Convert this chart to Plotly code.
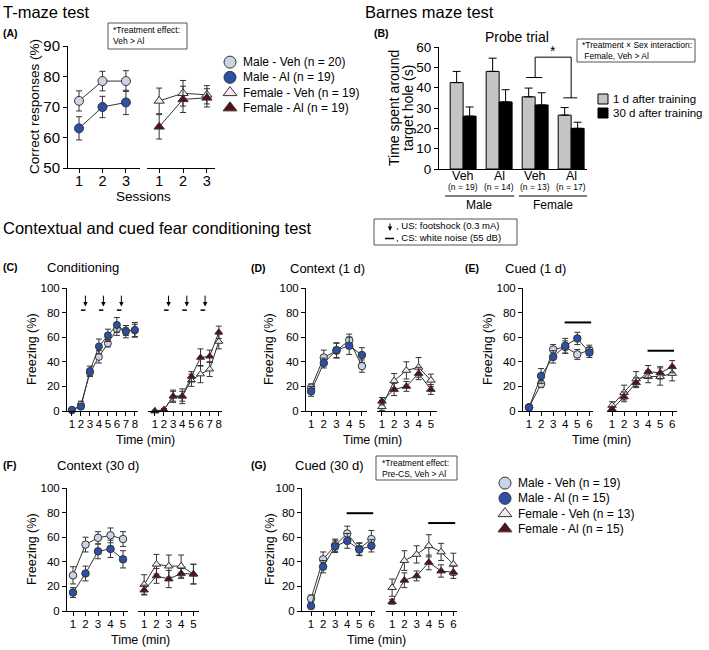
import plotly.graph_objects as go

W, H = 709, 650
FONT = "Liberation Sans, Arial, Helvetica, sans-serif"

# ---------------- data ----------------
group_names = ["Male - Veh", "Male - Al", "Female - Veh", "Female - Al"]
tmaze_n = [20, 19, 19, 19]
fear_n = [19, 15, 13, 15]

# (A) T-maze
tmaze_sessions = [1, 2, 3]
tmaze_male_veh = [72.0, 78.5, 78.5]
tmaze_male_veh_err = [3.3, 3.2, 3.4]
tmaze_male_al = [63.0, 70.0, 71.5]
tmaze_male_al_err = [3.8, 3.5, 4.0]
tmaze_female_veh = [72.0, 74.5, 74.0]
tmaze_female_veh_err = [4.2, 4.2, 3.0]
tmaze_female_al = [63.5, 72.5, 73.0]
tmaze_female_al_err = [4.0, 4.3, 3.0]

# (B) Barnes maze probe trial
barnes_groups = ["Veh", "Al", "Veh", "Al"]
barnes_n = [19, 14, 13, 17]
barnes_sex = ["Male", "Female"]
barnes_1d = [42.5, 48.0, 35.5, 26.5]
barnes_1d_err = [5.5, 6.5, 4.3, 3.7]
barnes_30d = [26.0, 33.0, 31.5, 20.0]
barnes_30d_err = [4.5, 6.0, 6.0, 3.0]
barnes_series = ["1 d after training", "30 d after training"]

# (C) Conditioning
cond_time = [1, 2, 3, 4, 5, 6, 7, 8]
cond_male_veh = [0.5, 5.0, 31.0, 44.0, 55.0, 66.5, 65.5, 65.5]
cond_male_veh_err = [1, 3, 3, 5, 3, 5, 4, 5]
cond_male_al = [1.0, 3.5, 32.5, 52.5, 61.5, 70.0, 64.5, 66.0]
cond_male_al_err = [1, 2, 4, 6, 5, 6, 5, 6]
cond_female_veh = [0.0, 1.0, 12.0, 12.0, 25.0, 30.0, 34.0, 56.5]
cond_female_veh_err = [0.5, 1, 4, 4, 5, 7, 6, 6]
cond_female_al = [0.0, 1.0, 12.0, 12.0, 28.0, 43.5, 44.5, 64.0]
cond_female_al_err = [0.5, 1, 5, 6, 4, 7, 5, 5]
us_times = [2.5, 4.5, 6.5]
cs_cond_start = [2.0, 4.0, 6.0]
cs_cond_end = [2.5, 4.5, 6.5]

# (D) Context 1 d
ctx1_time = [1, 2, 3, 4, 5]
ctx1_male_veh = [19.0, 43.5, 49.0, 57.5, 36.5]
ctx1_male_veh_err = [3, 6, 6, 5, 5]
ctx1_male_al = [16.0, 39.0, 49.5, 53.0, 45.5]
ctx1_male_al_err = [4, 4, 6, 7, 6]
ctx1_female_veh = [3.5, 24.5, 33.0, 35.5, 25.0]
ctx1_female_veh_err = [3, 6, 7, 8, 5]
ctx1_female_al = [8.0, 17.5, 20.0, 30.5, 17.5]
ctx1_female_al_err = [3, 5, 4, 5, 4]

# (E) Cued 1 d
cued1_time = [1, 2, 3, 4, 5, 6]
cued1_male_veh = [3.0, 22.0, 50.0, 52.0, 46.0, 49.5]
cued1_male_veh_err = [1, 3, 4, 5, 4, 4]
cued1_male_al = [3.0, 28.5, 44.0, 53.0, 59.0, 47.5]
cued1_male_al_err = [1, 6, 5, 6, 5, 4]
cued1_female_veh = [4.5, 15.0, 26.0, 28.0, 28.0, 30.5]
cued1_female_veh_err = [3, 6, 6, 5, 7, 6]
cued1_female_al = [1.5, 11.5, 23.0, 32.0, 31.0, 36.0]
cued1_female_al_err = [2, 4, 4, 5, 5, 5]

# (F) Context 30 d
ctx30_time = [1, 2, 3, 4, 5]
ctx30_male_veh = [29.0, 54.0, 59.5, 61.5, 58.5]
ctx30_male_veh_err = [7, 6, 5, 6, 6]
ctx30_male_al = [15.0, 30.5, 48.5, 50.5, 42.0]
ctx30_male_al_err = [4, 6, 6, 7, 7]
ctx30_female_veh = [21.5, 38.0, 36.5, 36.5, 30.0]
ctx30_female_veh_err = [8, 8, 9, 9, 8]
ctx30_female_al = [17.0, 28.5, 26.0, 30.5, 30.0]
ctx30_female_al_err = [4, 6, 7, 4, 8]

# (G) Cued 30 d
cued30_time = [1, 2, 3, 4, 5, 6]
cued30_male_veh = [10.0, 42.0, 53.5, 63.0, 50.5, 58.5]
cued30_male_veh_err = [3, 6, 5, 6, 5, 7]
cued30_male_al = [4.0, 36.0, 52.5, 57.0, 50.0, 53.0]
cued30_male_al_err = [1, 5, 5, 6, 5, 5]
cued30_female_veh = [19.0, 41.0, 46.0, 53.0, 48.0, 38.0]
cued30_female_veh_err = [7, 8, 7, 9, 7, 9]
cued30_female_al = [7.5, 25.0, 28.5, 39.5, 32.5, 31.5]
cued30_female_al_err = [2, 6, 4, 6, 5, 5]
cs_cued_start = 3.95
cs_cued_end = 6.15

# ---------------- styles ----------------
STY = {
    "Male - Veh": dict(symbol="circle", color="#c9d4e7"),
    "Male - Al": dict(symbol="circle", color="#2c50a6"),
    "Female - Veh": dict(symbol="triangle-up", color="#f6eaf1"),
    "Female - Al": dict(symbol="triangle-up", color="#5a0f18"),
}
EDGE = "#333333"

fig = go.Figure()


def add_series(name, xs, ys, errs, xref, yref, size):
    s = STY[name]
    fig.add_trace(go.Scatter(
        x=xs, y=ys, mode="lines+markers", xaxis=xref, yaxis=yref,
        line=dict(color=EDGE, width=1),
        marker=dict(symbol=s["symbol"], size=size, color=s["color"],
                    line=dict(color=EDGE, width=1)),
        error_y=dict(type="data", array=errs, color=EDGE, thickness=1, width=3),
        cliponaxis=False, showlegend=False, hoverinfo="skip"))


def xax(px0, px1, rng, anchor, tickvals, fs, ticks="outside", showlabels=True, standoff=-2):
    return dict(domain=[px0 / W, px1 / W], range=rng, anchor=anchor, showline=True,
                linecolor="black", linewidth=1, ticks=ticks, ticklen=4, tickwidth=1,
                tickcolor="black", tickvals=tickvals, automargin=False,
                showticklabels=showlabels, ticklabelstandoff=standoff,
                tickfont=dict(size=fs, family=FONT, color="black"),
                showgrid=False, zeroline=False, tickangle=0, fixedrange=True)


def yax(pt, pb, rng, anchor, tickvals, fs):
    return dict(domain=[1 - pb / H, 1 - pt / H], range=rng, anchor=anchor, showline=True,
                linecolor="black", linewidth=1, ticks="outside", ticklen=4, tickwidth=1,
                tickcolor="black", tickvals=tickvals, automargin=False,
                tickfont=dict(size=fs, family=FONT, color="black"),
                showgrid=False, zeroline=False, fixedrange=True)


def hidden(dom_x, dom_y, rx, ry, anchor):
    return (dict(domain=[dom_x[0] / W, dom_x[1] / W], range=rx, visible=False, anchor=anchor,
                 fixedrange=True, automargin=False),
            dict(domain=[1 - dom_y[1] / H, 1 - dom_y[0] / H], range=ry, visible=False,
                 fixedrange=True, automargin=False))


layout = dict(width=W, height=H, margin=dict(l=0, r=0, t=0, b=0, pad=0, autoexpand=False),
              paper_bgcolor="white", plot_bgcolor="rgba(0,0,0,0)", showlegend=False,
              font=dict(family=FONT, color="black"), barmode="group", bargap=0.28, bargroupgap=0)

# ---- axes ----
layout["xaxis"] = xax(68, 140, [0.53, 3.6], "y", tmaze_sessions, 14.5, standoff=-4)
layout["xaxis2"] = xax(147, 215, [0.49, 3.34], "y", tmaze_sessions, 14.5, standoff=-4)
layout["yaxis"] = yax(46, 168, [50, 90], "x", [50, 60, 70, 80, 90], 15)

barnes_x = list(range(len(barnes_groups)))
layout["xaxis3"] = xax(439, 587, [-0.67, 3.44], "y2", barnes_x, 12.5, ticks="", showlabels=False)
layout["yaxis2"] = yax(47, 169, [0, 60], "x3", [0, 10, 20, 30, 40, 50, 60], 13.5)

fz = [0, 20, 40, 60, 80, 100]
layout["xaxis4"] = xax(67, 138, [0.45, 8.35], "y3", cond_time, 11.5)
layout["xaxis5"] = xax(148, 222, [0.25, 8.35], "y3", cond_time, 11.5)
layout["yaxis3"] = yax(288, 411, [0, 100], "x4", fz, 11.5)

layout["xaxis6"] = xax(306, 367, [0.6, 5.4], "y4", ctx1_time, 11.5)
layout["xaxis7"] = xax(377, 437, [0.6, 5.5], "y4", ctx1_time, 11.5)
layout["yaxis4"] = yax(288, 411, [0, 100], "x6", fz, 11.5)

layout["xaxis8"] = xax(523, 593, [0.5, 6.3], "y5", cued1_time, 11.5)
layout["xaxis9"] = xax(607, 677, [0.58, 6.4], "y5", cued1_time, 11.5)
layout["yaxis5"] = yax(288, 411, [0, 100], "x8", fz, 11.5)

layout["xaxis10"] = xax(67, 128, [0.52, 5.4], "y6", ctx30_time, 11.5)
layout["xaxis11"] = xax(138, 199, [0.5, 5.45], "y6", ctx30_time, 11.5)
layout["yaxis6"] = yax(488, 611, [0, 100], "x10", fz, 11.5)

layout["xaxis12"] = xax(302, 375, [0.25, 6.3], "y7", cued30_time, 11.5)
layout["xaxis13"] = xax(386, 457, [0.5, 6.3], "y7", cued30_time, 11.5)
layout["yaxis7"] = yax(488, 611, [0, 100], "x12", fz, 11.5)

# legend axes (rows = index)
layout["xaxis14"], layout["yaxis8"] = hidden((225, 235), (54.5, 115.5), [-1, 1], [3.5, -0.5], "y8")
layout["xaxis15"], layout["yaxis9"] = hidden((598, 608), (92, 120), [-1, 1], [1.5, -0.5], "y9")
layout["xaxis16"], layout["yaxis10"] = hidden((500, 510), (475.5, 536.5), [-1, 1], [3.5, -0.5], "y10")

# ---- (A) ----
add_series("Male - Veh", tmaze_sessions, tmaze_male_veh, tmaze_male_veh_err, "x", "y", 9)
add_series("Male - Al", tmaze_sessions, tmaze_male_al, tmaze_male_al_err, "x", "y", 9)
add_series("Female - Veh", tmaze_sessions, tmaze_female_veh, tmaze_female_veh_err, "x2", "y", 9)
add_series("Female - Al", tmaze_sessions, tmaze_female_al, tmaze_female_al_err, "x2", "y", 9)

# ---- (B) ----
fig.add_trace(go.Bar(x=barnes_x, y=barnes_1d, xaxis="x3", yaxis="y2", offsetgroup="a",
                     marker=dict(color="#c4c4c4", line=dict(color="black", width=1)),
                     error_y=dict(type="data", symmetric=False, array=barnes_1d_err,
                                  arrayminus=[0] * 4, color="black", thickness=1, width=4),
                     hoverinfo="skip"))
fig.add_trace(go.Bar(x=barnes_x, y=barnes_30d, xaxis="x3", yaxis="y2", offsetgroup="b",
                     marker=dict(color="black", line=dict(color="black", width=1)),
                     error_y=dict(type="data", symmetric=False, array=barnes_30d_err,
                                  arrayminus=[0] * 4, color="black", thickness=1, width=4),
                     hoverinfo="skip"))

# ---- (C)-(G) ----
panels = [
    ("x4", "x5", "y3", cond_time,
     (cond_male_veh, cond_male_veh_err), (cond_male_al, cond_male_al_err),
     (cond_female_veh, cond_female_veh_err), (cond_female_al, cond_female_al_err)),
    ("x6", "x7", "y4", ctx1_time,
     (ctx1_male_veh, ctx1_male_veh_err), (ctx1_male_al, ctx1_male_al_err),
     (ctx1_female_veh, ctx1_female_veh_err), (ctx1_female_al, ctx1_female_al_err)),
    ("x8", "x9", "y5", cued1_time,
     (cued1_male_veh, cued1_male_veh_err), (cued1_male_al, cued1_male_al_err),
     (cued1_female_veh, cued1_female_veh_err), (cued1_female_al, cued1_female_al_err)),
    ("x10", "x11", "y6", ctx30_time,
     (ctx30_male_veh, ctx30_male_veh_err), (ctx30_male_al, ctx30_male_al_err),
     (ctx30_female_veh, ctx30_female_veh_err), (ctx30_female_al, ctx30_female_al_err)),
    ("x12", "x13", "y7", cued30_time,
     (cued30_male_veh, cued30_male_veh_err), (cued30_male_al, cued30_male_al_err),
     (cued30_female_veh, cued30_female_veh_err), (cued30_female_al, cued30_female_al_err)),
]
for xl, xr, ya, t, mv, ma, fv, fa in panels:
    sz = 7 if xl == "x4" else 7.5
    add_series("Male - Veh", t, mv[0], mv[1], xl, ya, sz)
    add_series("Male - Al", t, ma[0], ma[1], xl, ya, sz)
    add_series("Female - Veh", t, fv[0], fv[1], xr, ya, sz)
    add_series("Female - Al", t, fa[0], fa[1], xr, ya, sz)

# ---- legends ----
for i, name in enumerate(group_names):
    s = STY[name]
    for xr_, yr_ in (("x14", "y8"), ("x16", "y10")):
        fig.add_trace(go.Scatter(x=[0], y=[i], mode="markers", xaxis=xr_, yaxis=yr_,
                                 marker=dict(symbol=s["symbol"], size=12, color=s["color"],
                                             line=dict(color=EDGE, width=1)),
                                 cliponaxis=False, hoverinfo="skip", showlegend=False))
fig.add_trace(go.Scatter(x=[0, 0], y=[0, 1], mode="markers", xaxis="x15", yaxis="y9",
                         marker=dict(symbol="square", size=10, color=["#c4c4c4", "black"],
                                     line=dict(color="black", width=1)),
                         cliponaxis=False, hoverinfo="skip", showlegend=False))

ann = []
shapes = []


def txt(text, x, y, size, xanchor="left", yanchor="middle", angle=0):
    ann.append(dict(text=text, x=x / W, y=1 - y / H, xref="paper", yref="paper",
                    showarrow=False, xanchor=xanchor, yanchor=yanchor, textangle=angle,
                    align="left" if xanchor == "left" else "center",
                    font=dict(size=size, family=FONT, color="black")))


def box(x0, y0, x1, y1):
    shapes.append(dict(type="rect", xref="paper", yref="paper", x0=x0 / W, x1=x1 / W,
                       y0=1 - y1 / H, y1=1 - y0 / H, line=dict(color="#555555", width=1)))


def pline(x0, y0, x1, y1, w=1):
    shapes.append(dict(type="line", xref="paper", yref="paper", x0=x0 / W, x1=x1 / W,
                       y0=1 - y0 / H, y1=1 - y1 / H, line=dict(color="black", width=w)))


for i, (name, n) in enumerate(zip(group_names, tmaze_n)):
    ann.append(dict(text=f"{name} (n = {n})", x=241 / W, xref="paper", y=i, yref="y8",
                    showarrow=False, xanchor="left", font=dict(size=12, family=FONT, color="black")))
for i, (name, n) in enumerate(zip(group_names, fear_n)):
    ann.append(dict(text=f"{name} (n = {n})", x=516 / W, xref="paper", y=i, yref="y10",
                    showarrow=False, xanchor="left", font=dict(size=12, family=FONT, color="black")))
for i, name in enumerate(barnes_series):
    ann.append(dict(text=name, x=611 / W, xref="paper", y=i, yref="y9",
                    showarrow=False, xanchor="left", font=dict(size=11.5, family=FONT, color="black")))

# titles
txt("T-maze test", 1, 12, 16.5)
txt("<b>(A)</b>", 1, 33, 10.5)
txt("Correct responses (%)", 34, 107, 13.5, xanchor="center", angle=-90)
txt("Sessions", 143, 196, 13.5, xanchor="center")
box(108, 23, 187, 49)
txt("*Treatment effect:<br>Veh > Al", 111, 36, 8.5)

txt("Barnes maze test", 363, 12, 16.5)
txt("<b>(B)</b>", 372, 33, 10.5)
txt("Probe trial", 517, 37, 14, xanchor="center")
txt("Time spent around", 394, 108, 14, xanchor="center", angle=-90)
txt("target hole (s)", 408, 108, 14, xanchor="center", angle=-90)
box(577, 39, 695, 62)
txt("*Treatment × Sex interaction:<br> Female, Veh > Al", 580, 50.5, 8.5)
for xv, g, n in zip(barnes_x, barnes_groups, barnes_n):
    ann.append(dict(text=g, x=xv, xref="x3", y=1 - 176 / H, yref="paper",
                    showarrow=False, xanchor="center", yanchor="middle",
                    font=dict(size=12.5, family=FONT, color="black")))
    ann.append(dict(text=f"(n = {n})", x=xv, xref="x3", y=1 - 187 / H, yref="paper",
                    showarrow=False, xanchor="center", yanchor="middle",
                    font=dict(size=8.5, family=FONT, color="black")))
for label, cx in zip(barnes_sex, (0.45, 2.5)):
    ann.append(dict(text=label, x=cx, xref="x3", y=1 - 205 / H, yref="paper",
                    showarrow=False, xanchor="center", yanchor="middle",
                    font=dict(size=12, family=FONT, color="black")))
for a, b in ((-0.5, 1.42), (1.55, 3.47)):
    shapes.append(dict(type="line", xref="x3", yref="paper", x0=a, x1=b,
                       y0=1 - 196 / H, y1=1 - 196 / H, line=dict(color="black", width=1)))
# significance bracket
for seg in ((2.0, 55, 3.0, 55), (2.0, 55, 2.0, 45), (3.0, 55, 3.0, 35),
            (1.75, 45, 2.2, 45), (2.78, 35, 3.17, 35)):
    shapes.append(dict(type="line", xref="x3", yref="y2", x0=seg[0], y0=seg[1], x1=seg[2], y1=seg[3],
                       line=dict(color="black", width=1)))
ann.append(dict(text="*", x=2.5, y=58, xref="x3", yref="y2", showarrow=False,
                font=dict(size=14, family=FONT, color="black"), yanchor="middle"))

txt("Contextual and cued fear conditioning test", 1, 228, 16.5)
box(374, 219, 517, 245)
# key: arrow (US) and dash (CS)
ann.append(dict(text="", x=390 / W, y=1 - 231 / H, xref="paper", yref="paper",
                showarrow=True, ax=0, ay=-9, arrowhead=2, arrowsize=0.9, arrowwidth=1,
                arrowcolor="black"))
pline(385, 238.5, 394, 238.5, 1.5)
txt(", US: footshock (0.3 mA)<br>, CS: white noise (55 dB)", 394, 232, 9.5)

txt("<b>(C)</b>", 1, 267, 10.5)
txt("Conditioning", 45, 267, 13)
txt("<b>(D)</b>", 249, 268, 10.5)
txt("Context (1 d)", 288, 268, 13)
txt("<b>(E)</b>", 463, 268, 10.5)
txt("Cued (1 d)", 503, 268, 13)
txt("<b>(F)</b>", 1, 465, 10.5)
txt("Context (30 d)", 55, 465, 13)
txt("<b>(G)</b>", 249, 465, 10.5)
txt("Cued (30 d)", 293, 465, 13)
box(376, 456, 457, 480)
txt("*Treatment effect:<br>Pre-CS, Veh > Al", 380, 468, 8.5)

for x, y in ((32, 349), (269, 349), (488, 349), (32, 549), (270, 549)):
    txt("Freezing (%)", x, y, 12.5, xanchor="center", angle=-90)
for x, y in ((145, 440), (372, 440), (601, 440), (140, 640), (377, 640)):
    txt("Time (min)", x, y, 12.5, xanchor="center")

# conditioning US arrows and CS dashes
for xr_ in ("x4", "x5"):
    for t in us_times:
        ann.append(dict(text="", x=t, y=85, xref=xr_, yref="y3", ax=t, ay=95,
                        axref=xr_, ayref="y3", showarrow=True, arrowhead=2, arrowsize=0.9,
                        arrowwidth=1, arrowcolor="black"))
    for a, b in zip(cs_cond_start, cs_cond_end):
        shapes.append(dict(type="line", xref=xr_, yref="y3", x0=a, x1=b, y0=82, y1=82,
                           line=dict(color="black", width=1.5)))

# cued CS bars
for xr_, yr_, lev in (("x8", "y5", 72), ("x9", "y5", 49), ("x12", "y7", 79.5), ("x13", "y7", 71.5)):
    shapes.append(dict(type="line", xref=xr_, yref=yr_, x0=cs_cued_start, x1=cs_cued_end,
                       y0=lev, y1=lev, line=dict(color="black", width=2)))

layout["annotations"] = ann
layout["shapes"] = shapes
fig.update_layout(**layout)
fig.write_html("out.html", config={"displayModeBar": False},
               post_script="document.body.style.margin='0px';document.body.style.padding='0px';")
